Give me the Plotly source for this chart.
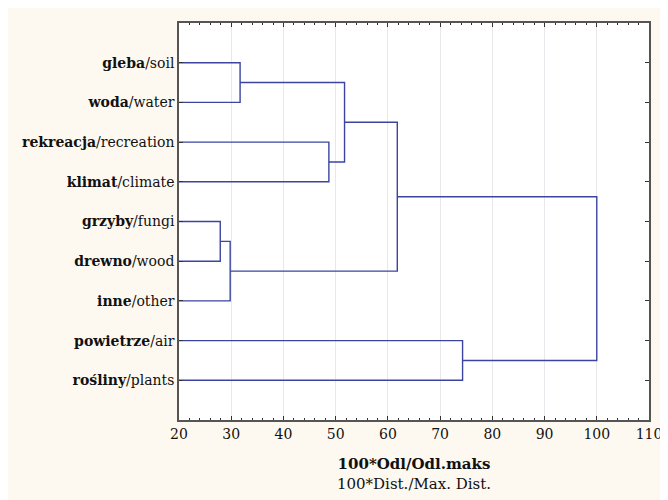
import plotly.graph_objects as go

# Leaves (top to bottom)
labels_pl = ["gleba", "woda", "rekreacja", "klimat", "grzyby", "drewno", "inne", "powietrze", "rośliny"]
labels_en = ["soil", "water", "recreation", "climate", "fungi", "wood", "other", "air", "plants"]

# Merges: (child A, child B, linkage distance); nodes 0-8 are leaves, merge k creates node 9+k
merge_a = [0, 2, 9, 4, 12, 11, 7, 14]
merge_b = [1, 3, 10, 5, 6, 13, 8, 15]
merge_h = [31.7, 48.7, 51.7, 27.9, 29.8, 61.8, 74.3, 100.0]

x_ticks = [20, 30, 40, 50, 60, 70, 80, 90, 100, 110]

n = len(labels_pl)
pos = {i: i + 1 for i in range(n)}
height = {i: 0.0 for i in range(n)}

xs, ys = [], []
for k, (a, b, h) in enumerate(zip(merge_a, merge_b, merge_h)):
    xs += [height[a], h, h, height[b], None]
    ys += [pos[a], pos[a], pos[b], pos[b], None]
    node = n + k
    pos[node] = (pos[a] + pos[b]) / 2
    height[node] = h

fig = go.Figure()
fig.add_trace(go.Scatter(x=xs, y=ys, mode="lines",
                         line=dict(color="#3b45a0", width=1.4),
                         hoverinfo="skip", showlegend=False))

ticktext = [f"<b>{p}</b>/{e}" for p, e in zip(labels_pl, labels_en)]

font = "DejaVu Serif"
fig.update_layout(
    width=660, height=492,
    margin=dict(l=171, r=19, t=15, b=80),
    paper_bgcolor="#fdf9f1",
    plot_bgcolor="#ffffff",
    font=dict(family=font, size=14, color="#111111"),
    xaxis=dict(
        range=[20, 110], tickvals=x_ticks, ticks="inside", ticklen=4,
        tickcolor="#333333", showgrid=True, gridcolor="#e8e8ec", gridwidth=1,
        showline=True, linecolor="#555555", linewidth=1.5, mirror="allticks",
        zeroline=False, automargin=False, tickfont=dict(size=14, family=font),
        minor=dict(dtick=2, ticks="inside", ticklen=2, tickcolor="#333333", showgrid=False),
        title=dict(text="<b>100*Odl/Odl.maks</b><br>100*Dist./Max. Dist.",
                   font=dict(size=15, family=font), standoff=18),
    ),
    yaxis=dict(
        range=[10, 0], tickvals=list(range(1, n + 1)), ticktext=ticktext,
        ticks="inside", ticklen=4, tickcolor="#333333",
        showgrid=False, showline=True, linecolor="#555555", linewidth=1.5,
        mirror="allticks", zeroline=False, automargin=False,
        tickfont=dict(size=14, family=font),
    ),
)

fig.write_html("out.html")
